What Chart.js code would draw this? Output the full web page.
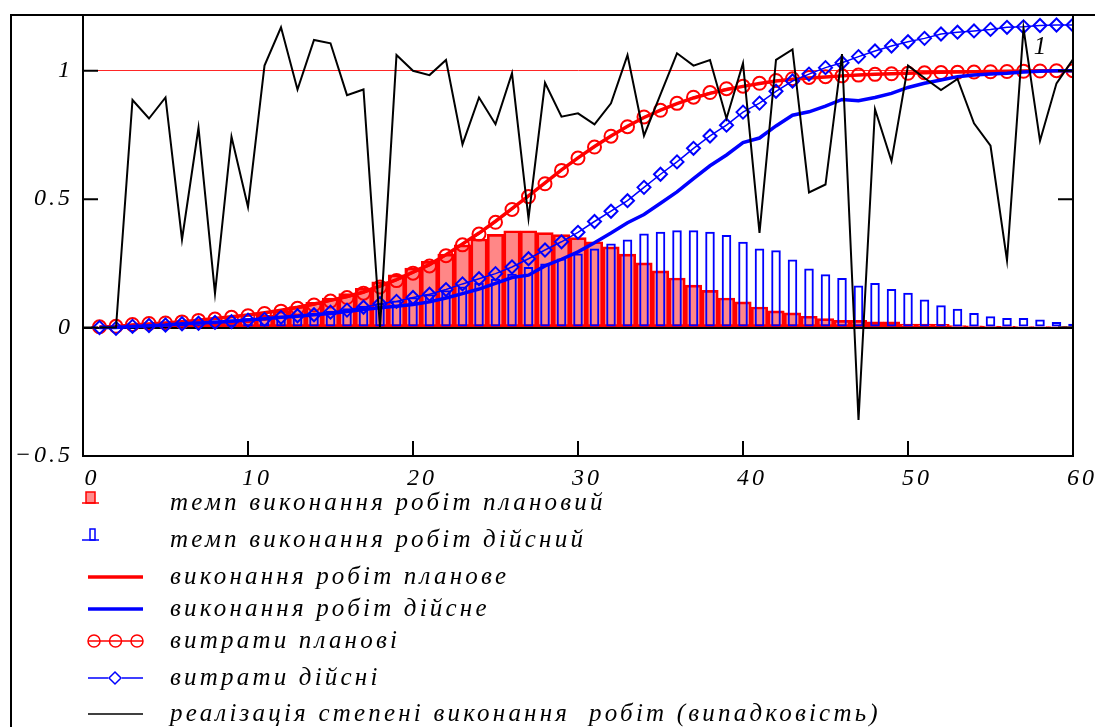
<!DOCTYPE html>
<html>
<head>
<meta charset="utf-8">
<script src="https://cdn.jsdelivr.net/npm/chart.js@4"></script>
<style>
  body { margin: 0; background: #fff; }
  canvas { display: block; }
</style>
</head>
<body>
<canvas id="chart" width="1095" height="727"></canvas>
<script>
    // Time steps
    const steps = [1, 2, 3, 4, 5, 6, 7, 8, 9, 10, 11, 12, 13, 14, 15, 16, 17, 18, 19, 20,
        21, 22, 23, 24, 25, 26, 27, 28, 29, 30, 31, 32, 33, 34, 35, 36, 37, 38, 39, 40,
        41, 42, 43, 44, 45, 46, 47, 48, 49, 50, 51, 52, 53, 54, 55, 56, 57, 58, 59, 60];

    // темп виконання робіт плановий (red bars)
    const planRate = [0.003, 0.005, 0.007, 0.009, 0.011, 0.014, 0.018, 0.022, 0.028, 0.035,
        0.048, 0.064, 0.082, 0.098, 0.115, 0.132, 0.153, 0.178, 0.205, 0.232,
        0.258, 0.286, 0.322, 0.345, 0.363, 0.377, 0.377, 0.370, 0.362, 0.350,
        0.334, 0.314, 0.286, 0.252, 0.221, 0.193, 0.165, 0.145, 0.115, 0.100,
        0.080, 0.065, 0.057, 0.044, 0.035, 0.028, 0.028, 0.022, 0.022, 0.014,
        0.014, 0.013, 0.008, 0.007, 0.006, 0.005, 0.004, 0.004, 0.003, 0.003];

    // темп виконання робіт дійсний (blue hollow bars)
    const factRate = [0.000, 0.004, 0.010, 0.015, 0.018, 0.022, 0.025, 0.028, 0.032, 0.036,
        0.040, 0.046, 0.052, 0.058, 0.066, 0.075, 0.085, 0.095, 0.105, 0.118,
        0.130, 0.145, 0.160, 0.175, 0.190, 0.210, 0.236, 0.249, 0.269, 0.288,
        0.308, 0.327, 0.343, 0.366, 0.373, 0.379, 0.379, 0.373, 0.360, 0.334,
        0.308, 0.301, 0.265, 0.230, 0.208, 0.193, 0.164, 0.174, 0.150, 0.136,
        0.109, 0.087, 0.073, 0.057, 0.044, 0.037, 0.037, 0.031, 0.022, 0.015];

    // виконання робіт планове (thick red)
    const planDone = [0.002, 0.004, 0.010, 0.014, 0.018, 0.023, 0.029, 0.035, 0.042, 0.049,
        0.058, 0.068, 0.079, 0.092, 0.106, 0.121, 0.139, 0.162, 0.187, 0.216,
        0.246, 0.284, 0.326, 0.368, 0.414, 0.463, 0.513, 0.563, 0.614, 0.661,
        0.705, 0.746, 0.784, 0.818, 0.847, 0.872, 0.894, 0.912, 0.927, 0.939,
        0.950, 0.960, 0.967, 0.972, 0.976, 0.980, 0.983, 0.986, 0.988, 0.990,
        0.992, 0.994, 0.995, 0.996, 0.997, 0.998, 0.999, 1.000, 1.000, 1.000];

    // виконання робіт дійсне (thick blue)
    const factDone = [0.000, 0.000, 0.004, 0.007, 0.010, 0.015, 0.018, 0.021, 0.025, 0.030,
        0.034, 0.040, 0.044, 0.050, 0.055, 0.063, 0.070, 0.077, 0.083, 0.090,
        0.100, 0.115, 0.132, 0.150, 0.172, 0.195, 0.204, 0.240, 0.266, 0.295,
        0.330, 0.368, 0.408, 0.440, 0.484, 0.528, 0.580, 0.630, 0.672, 0.720,
        0.738, 0.785, 0.827, 0.840, 0.862, 0.888, 0.883, 0.896, 0.912, 0.935,
        0.951, 0.964, 0.977, 0.983, 0.987, 0.990, 0.995, 0.998, 1.000, 1.000];

    // витрати планові (red circles)
    const planCost = [0.003, 0.005, 0.012, 0.016, 0.018, 0.022, 0.028, 0.033, 0.040, 0.046,
        0.055, 0.064, 0.075, 0.088, 0.103, 0.117, 0.134, 0.158, 0.183, 0.212,
        0.240, 0.280, 0.322, 0.364, 0.410, 0.460, 0.510, 0.560, 0.612, 0.660,
        0.703, 0.745, 0.782, 0.820, 0.846, 0.873, 0.897, 0.915, 0.930, 0.940,
        0.951, 0.962, 0.969, 0.974, 0.977, 0.980, 0.983, 0.986, 0.988, 0.990,
        0.992, 0.993, 0.994, 0.995, 0.996, 0.997, 0.998, 0.999, 1.000, 1.000];

    // витрати дійсні (blue diamonds)
    const factCost = [0.000, -0.003, 0.005, 0.008, 0.010, 0.015, 0.017, 0.020, 0.023, 0.029,
        0.032, 0.040, 0.046, 0.050, 0.060, 0.068, 0.079, 0.093, 0.102, 0.117,
        0.130, 0.148, 0.170, 0.190, 0.210, 0.236, 0.268, 0.302, 0.334, 0.371,
        0.413, 0.453, 0.494, 0.546, 0.597, 0.645, 0.698, 0.746, 0.788, 0.839,
        0.874, 0.920, 0.960, 0.987, 1.012, 1.031, 1.055, 1.077, 1.096, 1.113,
        1.126, 1.143, 1.150, 1.155, 1.161, 1.169, 1.171, 1.176, 1.178, 1.178];

    // реалізація степені виконання робіт (black, random)
    const realization = [0.000, 0.000, 0.886, 0.814, 0.896, 0.343, 0.778, 0.133, 0.743, 0.470,
        1.020, 1.169, 0.927, 1.120, 1.107, 0.905, 0.927, 0.000, 1.061, 1.000,
        0.983, 1.042, 0.713, 0.896, 0.792, 0.990, 0.425, 0.953, 0.821, 0.834,
        0.791, 0.873, 1.061, 0.747, 0.908, 1.068, 1.020, 1.042, 0.814, 1.029,
        0.369, 1.042, 1.083, 0.526, 0.557, 1.065, -0.360, 0.850, 0.648, 1.020,
        0.972, 0.925, 0.968, 0.795, 0.708, 0.262, 1.165, 0.727, 0.951, 1.044];

    const xTicks = [0, 10, 20, 30, 40, 50, 60];
    const yTicks = [-0.5, 0, 0.5, 1];

    const legendLabels = [
        'темп виконання робіт плановий',
        'темп виконання робіт дійсний',
        'виконання робіт планове',
        'виконання робіт дійсне',
        'витрати планові',
        'витрати дійсні',
        'реалізація степені виконання  робіт (випадковість)'
    ];

    const RED = '#ff0000';
    const BLUE = '#0000ff';
    const axisFont = { family: 'Liberation Serif', size: 24, style: 'italic' };

    function pts(values) {
        return steps.map((s, i) => ({ x: s, y: values[i] }));
    }

    // Mathcad-like frame, inward ticks and the legend underneath
    const mathcadFrame = {
        id: 'mathcadFrame',
        beforeDraw(chart) {
            chart.ctx.letterSpacing = '3px';
        },
        afterDraw(chart) {
            const { ctx, chartArea: a, scales: { x, y } } = chart;
            ctx.save();
            ctx.letterSpacing = '0px';
            ctx.strokeStyle = '#000';
            ctx.lineWidth = 2;

            // outer frame (left + top)
            ctx.beginPath();
            ctx.moveTo(11, 740);
            ctx.lineTo(11, 15);
            ctx.lineTo(1100, 15);
            ctx.stroke();

            // plot box
            ctx.strokeRect(a.left, a.top, a.right - a.left, a.bottom - a.top);

            // inward ticks
            ctx.beginPath();
            yTicks.forEach(v => {
                const py = y.getPixelForValue(v);
                ctx.moveTo(a.left, py); ctx.lineTo(a.left + 15, py);
                ctx.moveTo(a.right, py); ctx.lineTo(a.right - 15, py);
            });
            xTicks.forEach(v => {
                const px = x.getPixelForValue(v);
                ctx.moveTo(px, a.bottom); ctx.lineTo(px, a.bottom - 15);
            });
            ctx.stroke();

            // "1" marker label inside the plot
            ctx.fillStyle = '#000';
            ctx.font = 'italic 25px "Liberation Serif"';
            ctx.textAlign = 'center';
            ctx.textBaseline = 'middle';
            ctx.fillText('1', x.getPixelForValue(58), y.getPixelForValue(1.09));

            // legend
            const rows = [503, 540, 577, 609, 641, 678, 714];
            const x0 = 88, x1 = 143;
            ctx.textAlign = 'left';
            rows.forEach((ry, i) => {
                ctx.save();
                ctx.lineWidth = 1.5;
                if (i === 0) {
                    ctx.fillStyle = 'rgba(255,0,0,0.45)';
                    ctx.fillRect(86, ry - 11, 9, 11);
                    ctx.strokeStyle = RED;
                    ctx.strokeRect(86, ry - 11, 9, 11);
                    ctx.beginPath(); ctx.moveTo(82, ry); ctx.lineTo(99, ry); ctx.stroke();
                } else if (i === 1) {
                    ctx.strokeStyle = BLUE;
                    ctx.strokeRect(90, ry - 11, 5, 11);
                    ctx.beginPath(); ctx.moveTo(82, ry); ctx.lineTo(99, ry); ctx.stroke();
                } else if (i === 2 || i === 3) {
                    ctx.strokeStyle = i === 2 ? RED : BLUE;
                    ctx.lineWidth = 3.5;
                    ctx.beginPath(); ctx.moveTo(x0, ry); ctx.lineTo(x1, ry); ctx.stroke();
                } else if (i === 4) {
                    ctx.strokeStyle = RED;
                    ctx.beginPath(); ctx.moveTo(x0, ry); ctx.lineTo(x1, ry); ctx.stroke();
                    [94, 115.5, 137].forEach(cx => {
                        ctx.beginPath(); ctx.arc(cx, ry, 6, 0, Math.PI * 2); ctx.stroke();
                    });
                } else if (i === 5) {
                    ctx.strokeStyle = BLUE;
                    ctx.beginPath(); ctx.moveTo(x0, ry); ctx.lineTo(108, ry);
                    ctx.moveTo(122, ry); ctx.lineTo(x1, ry); ctx.stroke();
                    ctx.beginPath();
                    ctx.moveTo(115, ry - 6); ctx.lineTo(121, ry); ctx.lineTo(115, ry + 6);
                    ctx.lineTo(109, ry); ctx.closePath(); ctx.stroke();
                } else {
                    ctx.strokeStyle = '#000';
                    ctx.beginPath(); ctx.moveTo(x0, ry); ctx.lineTo(x1, ry); ctx.stroke();
                }
                ctx.restore();
                ctx.letterSpacing = '3.2px';
                ctx.font = 'italic 25px "Liberation Serif"';
                ctx.fillText(chart.data.datasets[i].label, 170, ry);
            });
            ctx.restore();
        }
    };

    new Chart(document.getElementById('chart'), {
        type: 'bar',
        data: {
            datasets: [
                {
                    type: 'bar', label: legendLabels[0], data: pts(planRate),
                    backgroundColor: 'rgba(255, 0, 0, 0.47)', borderColor: RED, borderWidth: 2,
                    borderSkipped: false, grouped: false, barPercentage: 1, categoryPercentage: 1, order: 7
                },
                {
                    type: 'bar', label: legendLabels[1], data: pts(factRate),
                    backgroundColor: 'rgba(0, 0, 0, 0)', borderColor: BLUE, borderWidth: 2,
                    borderSkipped: false, grouped: false, barPercentage: 0.58, categoryPercentage: 1, order: 6
                },
                {
                    type: 'line', label: legendLabels[2], data: pts(planDone),
                    borderColor: RED, borderWidth: 3.5, pointRadius: 0, order: 4
                },
                {
                    type: 'line', label: legendLabels[3], data: pts(factDone),
                    borderColor: BLUE, borderWidth: 3.5, pointRadius: 0, order: 2
                },
                {
                    type: 'line', label: legendLabels[4], data: pts(planCost),
                    borderColor: RED, borderWidth: 1.5, pointStyle: 'circle', pointRadius: 6.5,
                    pointBorderWidth: 2, pointBorderColor: RED, pointBackgroundColor: 'rgba(0,0,0,0)', order: 5
                },
                {
                    type: 'line', label: legendLabels[5], data: pts(factCost),
                    borderColor: BLUE, borderWidth: 1.5, pointStyle: 'rectRot', pointRadius: 6.5,
                    pointBorderWidth: 2, pointBorderColor: BLUE, pointBackgroundColor: 'rgba(0,0,0,0)', order: 3
                },
                {
                    type: 'line', label: legendLabels[6], data: pts(realization),
                    borderColor: '#000', borderWidth: 2, pointRadius: 0, order: 1
                }
            ]
        },
        options: {
            responsive: false,
            animation: false,
            devicePixelRatio: 1,
            layout: { padding: { left: 0, right: 22, top: 15, bottom: 0 } },
            plugins: {
                legend: { display: false },
                tooltip: { enabled: false }
            },
            scales: {
                x: {
                    type: 'linear', min: 0, max: 60, offset: false,
                    afterBuildTicks: s => { s.ticks = xTicks.map(v => ({ value: v })); },
                    afterFit: s => { s.height = 271; s.paddingLeft = 0; s.paddingRight = 0; },
                    grid: { display: false, drawTicks: false },
                    border: { display: true, color: '#000', width: 2 },
                    ticks: { font: axisFont, color: '#000', padding: 8, labelOffset: 9, maxRotation: 0, autoSkip: false }
                },
                y: {
                    min: -0.5, max: 1.217,
                    afterBuildTicks: s => { s.ticks = yTicks.map(v => ({ value: v })); },
                    afterFit: s => { s.width = 83; s.paddingTop = 0; s.paddingBottom = 0; },
                    grid: {
                        drawTicks: false,
                        color: c => c.tick.value === 1 ? 'rgba(255, 0, 0, 0.85)' : (c.tick.value === 0 ? '#000' : 'rgba(0,0,0,0)'),
                        lineWidth: c => c.tick.value === 0 ? 2 : 1
                    },
                    border: { display: true, color: '#000', width: 2 },
                    ticks: {
                        font: axisFont, color: '#000', padding: 10,
                        callback: v => String(v).replace('-', '\u2212')
                    }
                }
            }
        },
        plugins: [mathcadFrame]
    });
</script>
</body>
</html>
